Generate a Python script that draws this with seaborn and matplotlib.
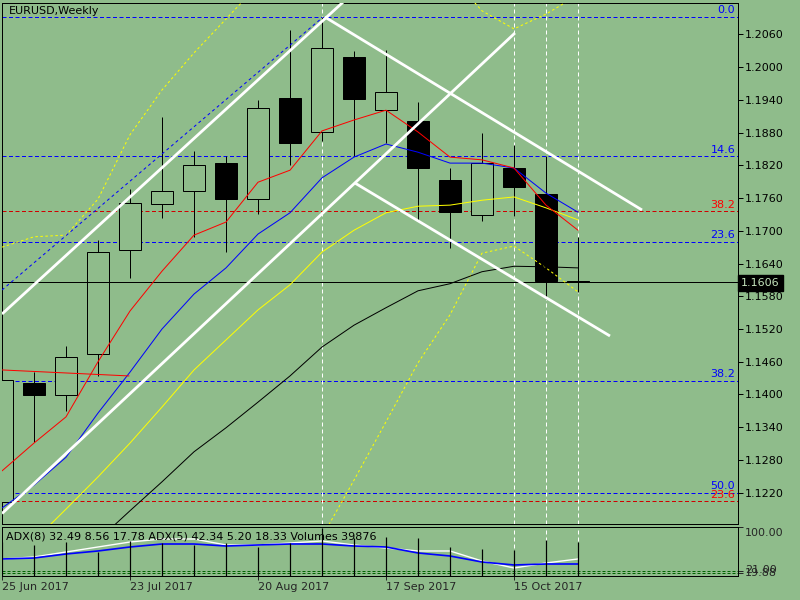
import numpy as np
import pandas as pd
import matplotlib
matplotlib.use("Agg")
import matplotlib.pyplot as plt
import seaborn as sns

# EURUSD weekly bars, first bar 25 Jun 2017
week_start = "2017-06-25"
opens = [1.1203, 1.1421, 1.1399, 1.1474, 1.1665, 1.1749, 1.1773, 1.1824, 1.1758, 1.1943,
         1.1881, 1.2018, 1.1921, 1.1901, 1.1793, 1.1729, 1.1815, 1.1767, 1.1608]
highs = [1.1432, 1.1441, 1.1489, 1.1683, 1.1777, 1.1909, 1.1846, 1.1837, 1.1940, 1.2068,
         1.2092, 1.2029, 1.2031, 1.1936, 1.1815, 1.1879, 1.1857, 1.1837, 1.1689]
lows = [1.1195, 1.1313, 1.1370, 1.1434, 1.1614, 1.1723, 1.1689, 1.1661, 1.1731, 1.1821,
        1.1865, 1.1837, 1.1861, 1.1720, 1.1668, 1.1718, 1.1727, 1.1575, 1.1588]
closes = [1.1427, 1.1399, 1.1469, 1.1661, 1.1751, 1.1773, 1.1821, 1.1758, 1.1925, 1.1861,
          1.2035, 1.1942, 1.1954, 1.1815, 1.1734, 1.1824, 1.1780, 1.1608, 1.1606]
volumes = [40100, 36400, 39900, 28200, 41100, 38700, 36400, 38700, 34000, 38700,
           56300, 44600, 45700, 44600, 34000, 31700, 30500, 42200, 39876]

# moving averages and bands
ma_red = [1.1260, 1.1311, 1.1359, 1.1460, 1.1553, 1.1626, 1.1692, 1.1716, 1.1789, 1.1811,
          1.1883, 1.1903, 1.1921, 1.1881, 1.1835, 1.1830, 1.1815, 1.1747, 1.1701]
ma_blue = [1.1192, 1.1234, 1.1285, 1.1366, 1.1441, 1.1520, 1.1584, 1.1632, 1.1694, 1.1733,
           1.1797, 1.1835, 1.1859, 1.1844, 1.1824, 1.1824, 1.1815, 1.1769, 1.1734]
ma_yellow = [1.1073, 1.1132, 1.1190, 1.1249, 1.1311, 1.1377, 1.1445, 1.1500, 1.1555, 1.1601,
             1.1661, 1.1701, 1.1733, 1.1745, 1.1747, 1.1756, 1.1762, 1.1742, 1.1720]
ma_black = [1.0968, 1.1023, 1.1078, 1.1133, 1.1187, 1.1240, 1.1295, 1.1339, 1.1386, 1.1434,
            1.1487, 1.1527, 1.1559, 1.1590, 1.1603, 1.1625, 1.1635, 1.1634, 1.1632]
band_upper = [1.1670, 1.1689, 1.1692, 1.1758, 1.1876, 1.1958, 1.2026, 1.2088, 1.2150, 1.2195,
              1.2250, 1.2286, 1.2268, 1.2233, 1.2169, 1.2103, 1.2070, 1.2097, 1.2132]
band_lower = [np.nan] * 9 + [1.1023, 1.1139, 1.1243, 1.1350, 1.1458, 1.1546, 1.1659,
                             1.1672, 1.1632, 1.1588]

# ADX panel
adx_white = [46.7, 50.8, 61.0, 71.3, 81.5, 87.7, 87.7, 75.4, 75.4, 79.5,
             83.6, 75.4, 69.2, 63.1, 63.1, 42.6, 28.2, 38.5, 46.7]
adx_blue = [46.7, 48.7, 56.9, 63.1, 71.3, 77.4, 77.4, 73.3, 75.4, 77.4,
            77.4, 73.3, 71.3, 59.0, 52.8, 40.5, 34.4, 36.4, 36.4]
adx_levels = [22.0, 18.0]
adx_text = "ADX(8) 32.49 8.56 17.78 ADX(5) 42.34 5.20 18.33 Volumes 39876"

# fibonacci levels
fib_blue_levels = [1.2092, 1.1837, 1.1680, 1.1425, 1.1220]
fib_blue_labels = ["0.0", "14.6", "23.6", "38.2", "50.0"]
fib_red_levels = [1.1736, 1.1205]
fib_red_labels = ["38.2", "23.6"]
bid_price = 1.1606

# drawn objects: (week index, price) end points
channel_up_outer = [(0.0, 1.15475), (10.8, 1.21266)]
channel_up_inner = [(0.0, 1.11819), (16.03, 1.20624)]
channel_down_upper = [(10.09, 1.20917), (20.0, 1.17381)]
channel_down_lower = [(11.03, 1.17875), (19.0, 1.15072)]
blue_trend = [(0.0, 1.15915), (10.0, 1.20900)]
red_trend = [(0.0, 1.14450), (3.97, 1.14340)]
vline_weeks = [10, 16, 17, 18]

price_ticks = [1.1220 + 0.006 * k for k in range(15)]
date_tick_weeks = [0, 4, 8, 12, 16]

BG = "#8fbc8b"
W, H = 800, 600

sns.set_theme(style="ticks")
plt.rcParams["font.family"] = ["DejaVu Sans"]
plt.rcParams["axes.facecolor"] = BG
plt.rcParams["figure.facecolor"] = BG

dates = pd.date_range(week_start, periods=len(opens), freq="7D")
df = pd.DataFrame({
    "week": np.arange(len(opens)), "open": opens, "high": highs, "low": lows,
    "close": closes, "volume": volumes, "ma_red": ma_red, "ma_blue": ma_blue,
    "ma_yellow": ma_yellow, "ma_black": ma_black, "upper": band_upper,
    "lower": band_lower, "adx_white": adx_white, "adx_blue": adx_blue,
})

fig = plt.figure(figsize=(8, 6), dpi=100)
ax = fig.add_axes([2 / W, (H - 524) / H, 736 / W, (524 - 2.5) / H])
axi = fig.add_axes([2 / W, (H - 576) / H, 736 / W, (576 - 526.5) / H])

px = 0.72  # one pixel in points

# candles
bull = df["close"] >= df["open"]
ax.vlines(df["week"], df["low"], df["high"], color="black", lw=px, zorder=2)
ax.bar(df["week"], (df["close"] - df["open"]).abs(), bottom=df[["open", "close"]].min(axis=1),
       width=0.66, color=np.where(bull, BG, "black"), edgecolor="black", linewidth=px, zorder=3)

# fib levels and bid line
for lvl, lab in zip(fib_blue_levels, fib_blue_labels):
    ax.axhline(lvl, color="#0000ff", lw=px, dashes=(4, 2.5), zorder=1)
    ax.annotate(lab, xy=(23, lvl), xytext=(-2, 1), textcoords="offset points",
                ha="right", va="bottom", color="#0000ff", fontsize=8)
for lvl, lab in zip(fib_red_levels, fib_red_labels):
    ax.axhline(lvl, color="#d00000", lw=px, dashes=(4, 2.5), zorder=1)
    ax.annotate(lab, xy=(23, lvl), xytext=(-2, 1), textcoords="offset points",
                ha="right", va="bottom", color="#ff0000", fontsize=8)
ax.axhline(bid_price, color="black", lw=px, zorder=4)

for w in vline_weeks:
    ax.axvline(w, color="white", lw=px, dashes=(4, 3), zorder=1)

# bands and moving averages
for col in ["upper", "lower"]:
    sns.lineplot(data=df, x="week", y=col, ax=ax, color="#ffff00", lw=px,
                 linestyle=(0, (2.5, 2.5)), zorder=5)
for col, c in [("ma_black", "black"), ("ma_yellow", "#ffff00"),
               ("ma_blue", "#0000ff"), ("ma_red", "#ff0000")]:
    sns.lineplot(data=df, x="week", y=col, ax=ax, color=c, lw=px, zorder=6)

# trend lines
for seg in [channel_up_outer, channel_up_inner, channel_down_upper, channel_down_lower]:
    xs, ys = zip(*seg)
    ax.plot(xs, ys, color="white", lw=2.0, solid_capstyle="butt", zorder=7)
xs, ys = zip(*blue_trend)
ax.plot(xs, ys, color="#0000ff", lw=px, dashes=(3, 3), zorder=6)
xs, ys = zip(*red_trend)
ax.plot(xs, ys, color="#ff0000", lw=px, zorder=6)

ax.set_xlim(0, 23)
ax.set_ylim(1.11627, 1.21183)
ax.set_xlabel("")
ax.set_ylabel("")
ax.set_xticks([])
ax.yaxis.tick_right()
ax.set_yticks(price_ticks)
ax.set_yticklabels([f"{t:.4f}" for t in price_ticks])
ax.tick_params(axis="y", direction="out", length=3.6, width=px, pad=1.5,
               labelsize=8, colors="black")
for s in ax.spines.values():
    s.set_visible(True)
    s.set_color("black")
    s.set_linewidth(px)

ax.text(7 / 736, 1 - 8.5 / 521.5, "EURUSD,Weekly", transform=ax.transAxes,
        fontsize=8, ha="left", va="center", color="black")
fig.text(741 / W, 1 - 283 / H, f"{bid_price:.4f}", fontsize=8, color="#c4e4bc",
         ha="left", va="center",
         bbox=dict(boxstyle="square,pad=0.3", facecolor="black", edgecolor="black"))

# indicator panel: volumes + ADX
axv = axi.twinx()
axv.vlines(df["week"], 0, df["volume"], color="black", lw=px * 1.2)
axv.set_ylim(0, 49.5 * 1173)
axv.set_yticks([])
axv.set_ylabel("")
for s in axv.spines.values():
    s.set_visible(False)

for w in vline_weeks:
    axi.axvline(w, color="white", lw=px, dashes=(4, 3), zorder=0)
for lvl in adx_levels:
    axi.axhline(lvl, color="#006400", lw=px, dashes=(3, 2))
sns.lineplot(data=df, x="week", y="adx_white", ax=axi, color="white", lw=1.0)
sns.lineplot(data=df, x="week", y="adx_blue", ax=axi, color="#0000ff", lw=1.2)
axi.set_xlim(0, 23)
axi.set_ylim(11.8, 113.3)
axi.set_xlabel("")
axi.set_ylabel("")
axi.yaxis.tick_right()
axi.set_yticks([113.3] + adx_levels)
axi.set_yticklabels([])
axi.tick_params(axis="y", direction="out", length=3.6, width=px)
axi.set_xticks(date_tick_weeks)
axi.set_xticklabels([dates[w].strftime("%d %b %Y") for w in date_tick_weeks],
                    ha="left", fontsize=8)
axi.tick_params(axis="x", direction="out", length=2.9, width=px, pad=1.2)
for s in axi.spines.values():
    s.set_visible(True)
    s.set_color("black")
    s.set_linewidth(px)

axi.text(4 / 736, 1 - 10 / 49.5, adx_text, transform=axi.transAxes, fontsize=8,
         ha="left", va="center", color="black", zorder=10)
fig.text(745 / W, 1 - 533 / H, "100.00", fontsize=8, ha="left", va="center")
# the two panel scales print their low labels on top of each other
fig.text(745 / W, 1 - 570 / H, "21.00", fontsize=8, ha="left", va="center")
fig.text(745 / W, 1 - 573 / H, "19.88", fontsize=8, ha="left", va="center")

fig.savefig("out.png", dpi=100, facecolor=BG)
